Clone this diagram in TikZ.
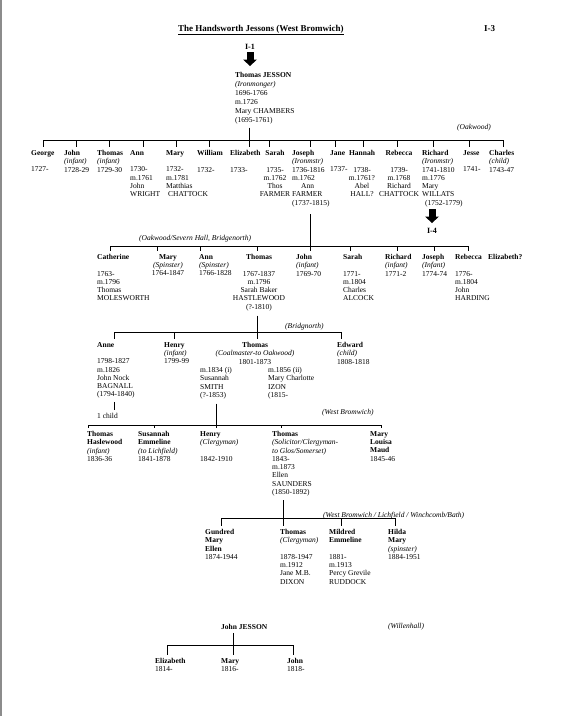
\documentclass[tikz,border=0pt]{standalone}
\usepackage{fontspec}
\setmainfont{Liberation Serif}
\usetikzlibrary{calc}
\newcommand\Nm[1]{\textbf{#1}}
\newcommand\Oc[1]{\textit{#1}}
\newcommand\Bl{\mbox{}}
% tick from a bar coordinate down to a child node
\newcommand\Kid[3]{\coordinate (#1) at (#2); \draw[conn] (#1) -- ($(#1 |- #3.north)+(0,-3.5)$);}
% drop from a parent node through a bar coordinate to a child node
\newcommand\Drop[5]{\coordinate (#1) at (#2); \draw[conn] ($(#1 |- #3.south)+(0,#4)$) -- ($(#1 |- #5.north)+(0,-3.5)$);}
\begin{document}
\begin{tikzpicture}[x=1pt,y=-1pt,
  pers/.style={anchor=north west, inner sep=0pt, align=left, font=\fontsize{7.5}{8.3}\selectfont},
  persc/.style={pers, anchor=north, align=center},
  lbl/.style={anchor=west, inner sep=0pt, font=\fontsize{7.5}{9}\selectfont\itshape},
  bar/.style={line width=0.9pt},
  conn/.style={line width=0.7pt},
  blockarrow/.pic={\fill (-3.5,0) rectangle (3.5,7.5); \fill (-7,7.5) -- (7,7.5) -- (0,14) -- cycle;}
]
\fill[white] (0,0) rectangle (567,716);
\useasboundingbox (0,0) rectangle (567,716);
\draw[black!45, line width=1.6pt] (1,0) -- (1,716);

% title
\node[anchor=base west, inner sep=0pt, font=\fontsize{9}{11}\selectfont\bfseries] (title) at (178,31.2) {\underline{The Handsworth Jessons (West Bromwich)}};
\node[anchor=base west, inner sep=0pt, font=\fontsize{9}{11}\selectfont\bfseries] (ref) at (484,31.2) {I-3};

% generation 0
\node[anchor=base, inner sep=0pt, font=\fontsize{8}{10}\selectfont\bfseries] (i1) at (250,49) {I-1};
\pic at (250,52) {blockarrow};
\node[pers, font=\fontsize{7.5}{9}\selectfont] (tj) at (235,72) {\Nm{Thomas JESSON}\\\Oc{(Ironmonger)}\\1696-1766\\m.1726\\Mary CHAMBERS\\(1695-1761)};
\node[lbl] (oak) at (457,128) {(Oakwood)};

% generation 1
\node[pers] (c1) at (31,150) {\Nm{George}\\\Bl\\1727-};
\node[pers] (c2) at (64,150) {\Nm{John}\\\Oc{(infant)}\\1728-29};
\node[pers] (c3) at (97,150) {\Nm{Thomas}\\\Oc{(infant)}\\1729-30};
\node[pers] (c4) at (130,150) {\Nm{Ann}\\\Bl\\1730-\\m.1761\\John\\WRIGHT};
\node[pers] (c5) at (166,150) {\Nm{Mary}\\\Bl\\1732-\\m.1781\\Matthias\\\hspace*{2pt}CHATTOCK};
\node[pers] (c6) at (197,150) {\Nm{William}\\\Bl\\1732-};
\node[pers] (c7) at (230,150) {\Nm{Elizabeth}\\\Bl\\1733-};
\node[persc] (c8) at (275,150) {\Nm{Sarah}\\\Bl\\1735-\\m.1762\\Thos\\FARMER};
\node[pers] (c9) at (292,150) {\Nm{Joseph}\\\Oc{(Ironmstr)}\\1736-1816\\m.1762\\\hspace*{9pt}Ann\\FARMER\\(1737-1815)};
\node[pers] (c10) at (330,150) {\Nm{Jane}\\\Bl\\1737-};
\node[persc] (c11) at (362,150) {\Nm{Hannah}\\\Bl\\1738-\\m.1761?\\Abel\\HALL?};
\node[persc] (c12) at (399,150) {\Nm{Rebecca}\\\Bl\\1739-\\m.1768\\Richard\\CHATTOCK};
\node[pers] (c13) at (422,150) {\Nm{Richard}\\\Oc{(Ironmstr)}\\1741-1810\\m.1776\\Mary\\WILLATS\\\hspace*{3pt}(1752-1779)};
\node[pers] (c14) at (463,150) {\Nm{Jesse}\\\Bl\\1741-};
\node[pers] (c15) at (489,150) {\Nm{Charles}\\\Oc{(child)}\\1743-47};

\Kid{b1a}{43,140}{c1}
\Kid{b1b}{76,140}{c2}
\Kid{b1c}{109,140}{c3}
\Kid{b1d}{143,140}{c4}
\Kid{b1e}{176,140}{c5}
\Kid{b1f}{209,140}{c6}
\Drop{b1g}{249,140}{tj}{3.5}{c7}
\Kid{b1h}{269,140}{c8}
\Kid{b1i}{310,140}{c9}
\Kid{b1j}{335,140}{c10}
\Kid{b1k}{363,140}{c11}
\Kid{b1l}{397,140}{c12}
\Kid{b1m}{433,140}{c13}
\Kid{b1n}{469,140}{c14}
\Kid{b1o}{503,140}{c15}
\draw[bar] (b1a) -- (b1o);

% continuation arrow to I-4
\pic at (432,209) {blockarrow};
\node[anchor=base, inner sep=0pt, font=\fontsize{8}{10}\selectfont\bfseries] (i4) at (432,233) {I-4};

% generation 2
\node[lbl] (sev) at (139,239) {(Oakwood/Severn Hall, Bridgenorth)};
\node[pers] (d1) at (97,254) {\Nm{Catherine}\\\Bl\\1763-\\m.1796\\Thomas\\MOLESWORTH};
\node[persc] (d2) at (168,254) {\Nm{Mary}\\\Oc{(Spinster)}\\1764-1847};
\node[pers] (d3) at (199,254) {\Nm{Ann}\\\Oc{(Spinster)}\\1766-1828};
\node[persc] (d4) at (259,254) {\Nm{Thomas}\\\Bl\\1767-1837\\m.1796\\Sarah Baker\\HASTLEWOOD\\(?-1810)};
\node[pers] (d5) at (296,254) {\Nm{John}\\\Oc{(infant)}\\1769-70};
\node[pers] (d6) at (343,254) {\Nm{Sarah}\\\Bl\\1771-\\m.1804\\Charles\\ALCOCK};
\node[pers] (d7) at (385,254) {\Nm{Richard}\\\Oc{(infant)}\\1771-2};
\node[pers] (d8) at (422,254) {\Nm{Joseph}\\\Oc{(Infant)}\\1774-74};
\node[pers] (d9) at (455,254) {\Nm{Rebecca}\\\Bl\\1776-\\m.1804\\John\\HARDING};
\node[pers] (d10) at (488,254) {\Nm{Elizabeth?}};

\Kid{b2a}{110,246}{d1}
\Kid{b2b}{157,246}{d2}
\Kid{b2c}{200,246}{d3}
\Kid{b2d}{257,246}{d4}
\Drop{b2e}{310,246}{c9}{7}{d5}
\Kid{b2f}{350,246}{d6}
\Kid{b2g}{397,246}{d7}
\Kid{b2h}{434,246}{d8}
\Kid{b2i}{468,246}{d9}
\draw[bar] (b2a) -- (b2i);

% generation 3
\node[lbl] (brid) at (285,327) {(Bridgnorth)};
\node[pers] (e1) at (97,342) {\Nm{Anne}\\\Bl\\1798-1827\\m.1826\\John Nock\\BAGNALL\\(1794-1840)};
\node[pers] (e2) at (164,342) {\Nm{Henry}\\\Oc{(infant)}\\1799-99};
\node[persc] (e3) at (255,342) {\Nm{Thomas}\\\Oc{(Coalmaster-to Oakwood)}\\1801-1873};
\node[pers] (e3a) at (200,367) {m.1834 (i)\\Susannah\\SMITH\\(?-1853)};
\node[pers] (e3b) at (268,367) {m.1856 (ii)\\Mary Charlotte\\IZON\\(1815-};
\node[pers] (e4) at (337,342) {\Nm{Edward}\\\Oc{(child)}\\1808-1818};
\node[pers] (ch) at (97,413) {1 child};

\Kid{b3a}{114,332}{e1}
\Kid{b3b}{174,332}{e2}
\Drop{b3c}{257,332}{d4}{4.5}{e3}
\Kid{b3d}{341,332}{e4}
\draw[bar] (b3a) -- (b3d);
\coordinate (anc) at (114,400);
\draw[conn] ($(anc |- e1.south)+(0,3)$) -- ($(anc |- ch.north)+(0,-3.5)$);

% generation 4
\node[lbl] (wb) at (322,413) {(West Bromwich)};
\node[pers] (f1) at (87,431) {\Nm{Thomas}\\\Nm{Haslewood}\\\Oc{(infant)}\\1836-36};
\node[pers] (f2) at (138,431) {\Nm{Susannah}\\\Nm{Emmeline}\\\Oc{(to Lichfield)}\\1841-1878};
\node[pers] (f3) at (200,431) {\Nm{Henry}\\\Oc{(Clergyman)}\\\Bl\\1842-1910};
\node[pers] (f4) at (272,431) {\Nm{Thomas}\\\Oc{(Solicitor/Clergyman-}\\\Oc{to Glos/Somerset)}\\1843-\\m.1873\\Ellen\\SAUNDERS\\(1850-1892)};
\node[pers] (f5) at (370,431) {\Nm{Mary}\\\Nm{Louisa}\\\Nm{Maud}\\1845-46};

\Kid{b4a}{88,425}{f1}
\Kid{b4b}{154,425}{f2}
\Drop{b4c}{216,425}{e3a}{4.5}{f3}
\Kid{b4d}{281,425}{f4}
\Kid{b4e}{381,425}{f5}
\draw[bar] (b4a) -- (b4e);

% generation 5
\node[pers] (h1) at (205,529) {\Nm{Gundred}\\\Nm{Mary}\\\Nm{Ellen}\\1874-1944};
\node[pers] (h2) at (280,529) {\Nm{Thomas}\\\Oc{(Clergyman)}\\\Bl\\1878-1947\\m.1912\\Jane M.B.\\DIXON};
\node[pers] (h3) at (329,529) {\Nm{Mildred}\\\Nm{Emmeline}\\\Bl\\1881-\\m.1913\\Percy Grevile\\RUDDOCK};
\node[pers] (h4) at (388,529) {\Nm{Hilda}\\\Nm{Mary}\\\Oc{(spinster)}\\1884-1951};

\Kid{b5a}{221,518}{h1}
\Drop{b5b}{283,518}{f4}{4}{h2}
\Kid{b5c}{341,518}{h3}
\Kid{b5d}{395,518}{h4}
\draw[bar] (b5a) -- (b5d);
\node[lbl] (wlwb) at (323,515.5) {(West Bromwich / Lichfield / Winchcomb/Bath)};

% Willenhall family
\node[anchor=base west, inner sep=0pt, font=\fontsize{7.5}{9}\selectfont\bfseries] (jj) at (221,629.5) {John JESSON};
\node[lbl] (wil) at (388,627) {(Willenhall)};
\node[pers] (k1) at (155,658) {\Nm{Elizabeth}\\1814-};
\node[pers] (k2) at (221,658) {\Nm{Mary}\\1816-};
\node[pers] (k3) at (287,658) {\Nm{John}\\1818-};
\Kid{b6a}{167,645}{k1}
\Drop{b6b}{233,645}{jj}{3}{k2}
\Kid{b6c}{293,645}{k3}
\draw[bar] (b6a) -- (b6c);
\end{tikzpicture}
\end{document}
